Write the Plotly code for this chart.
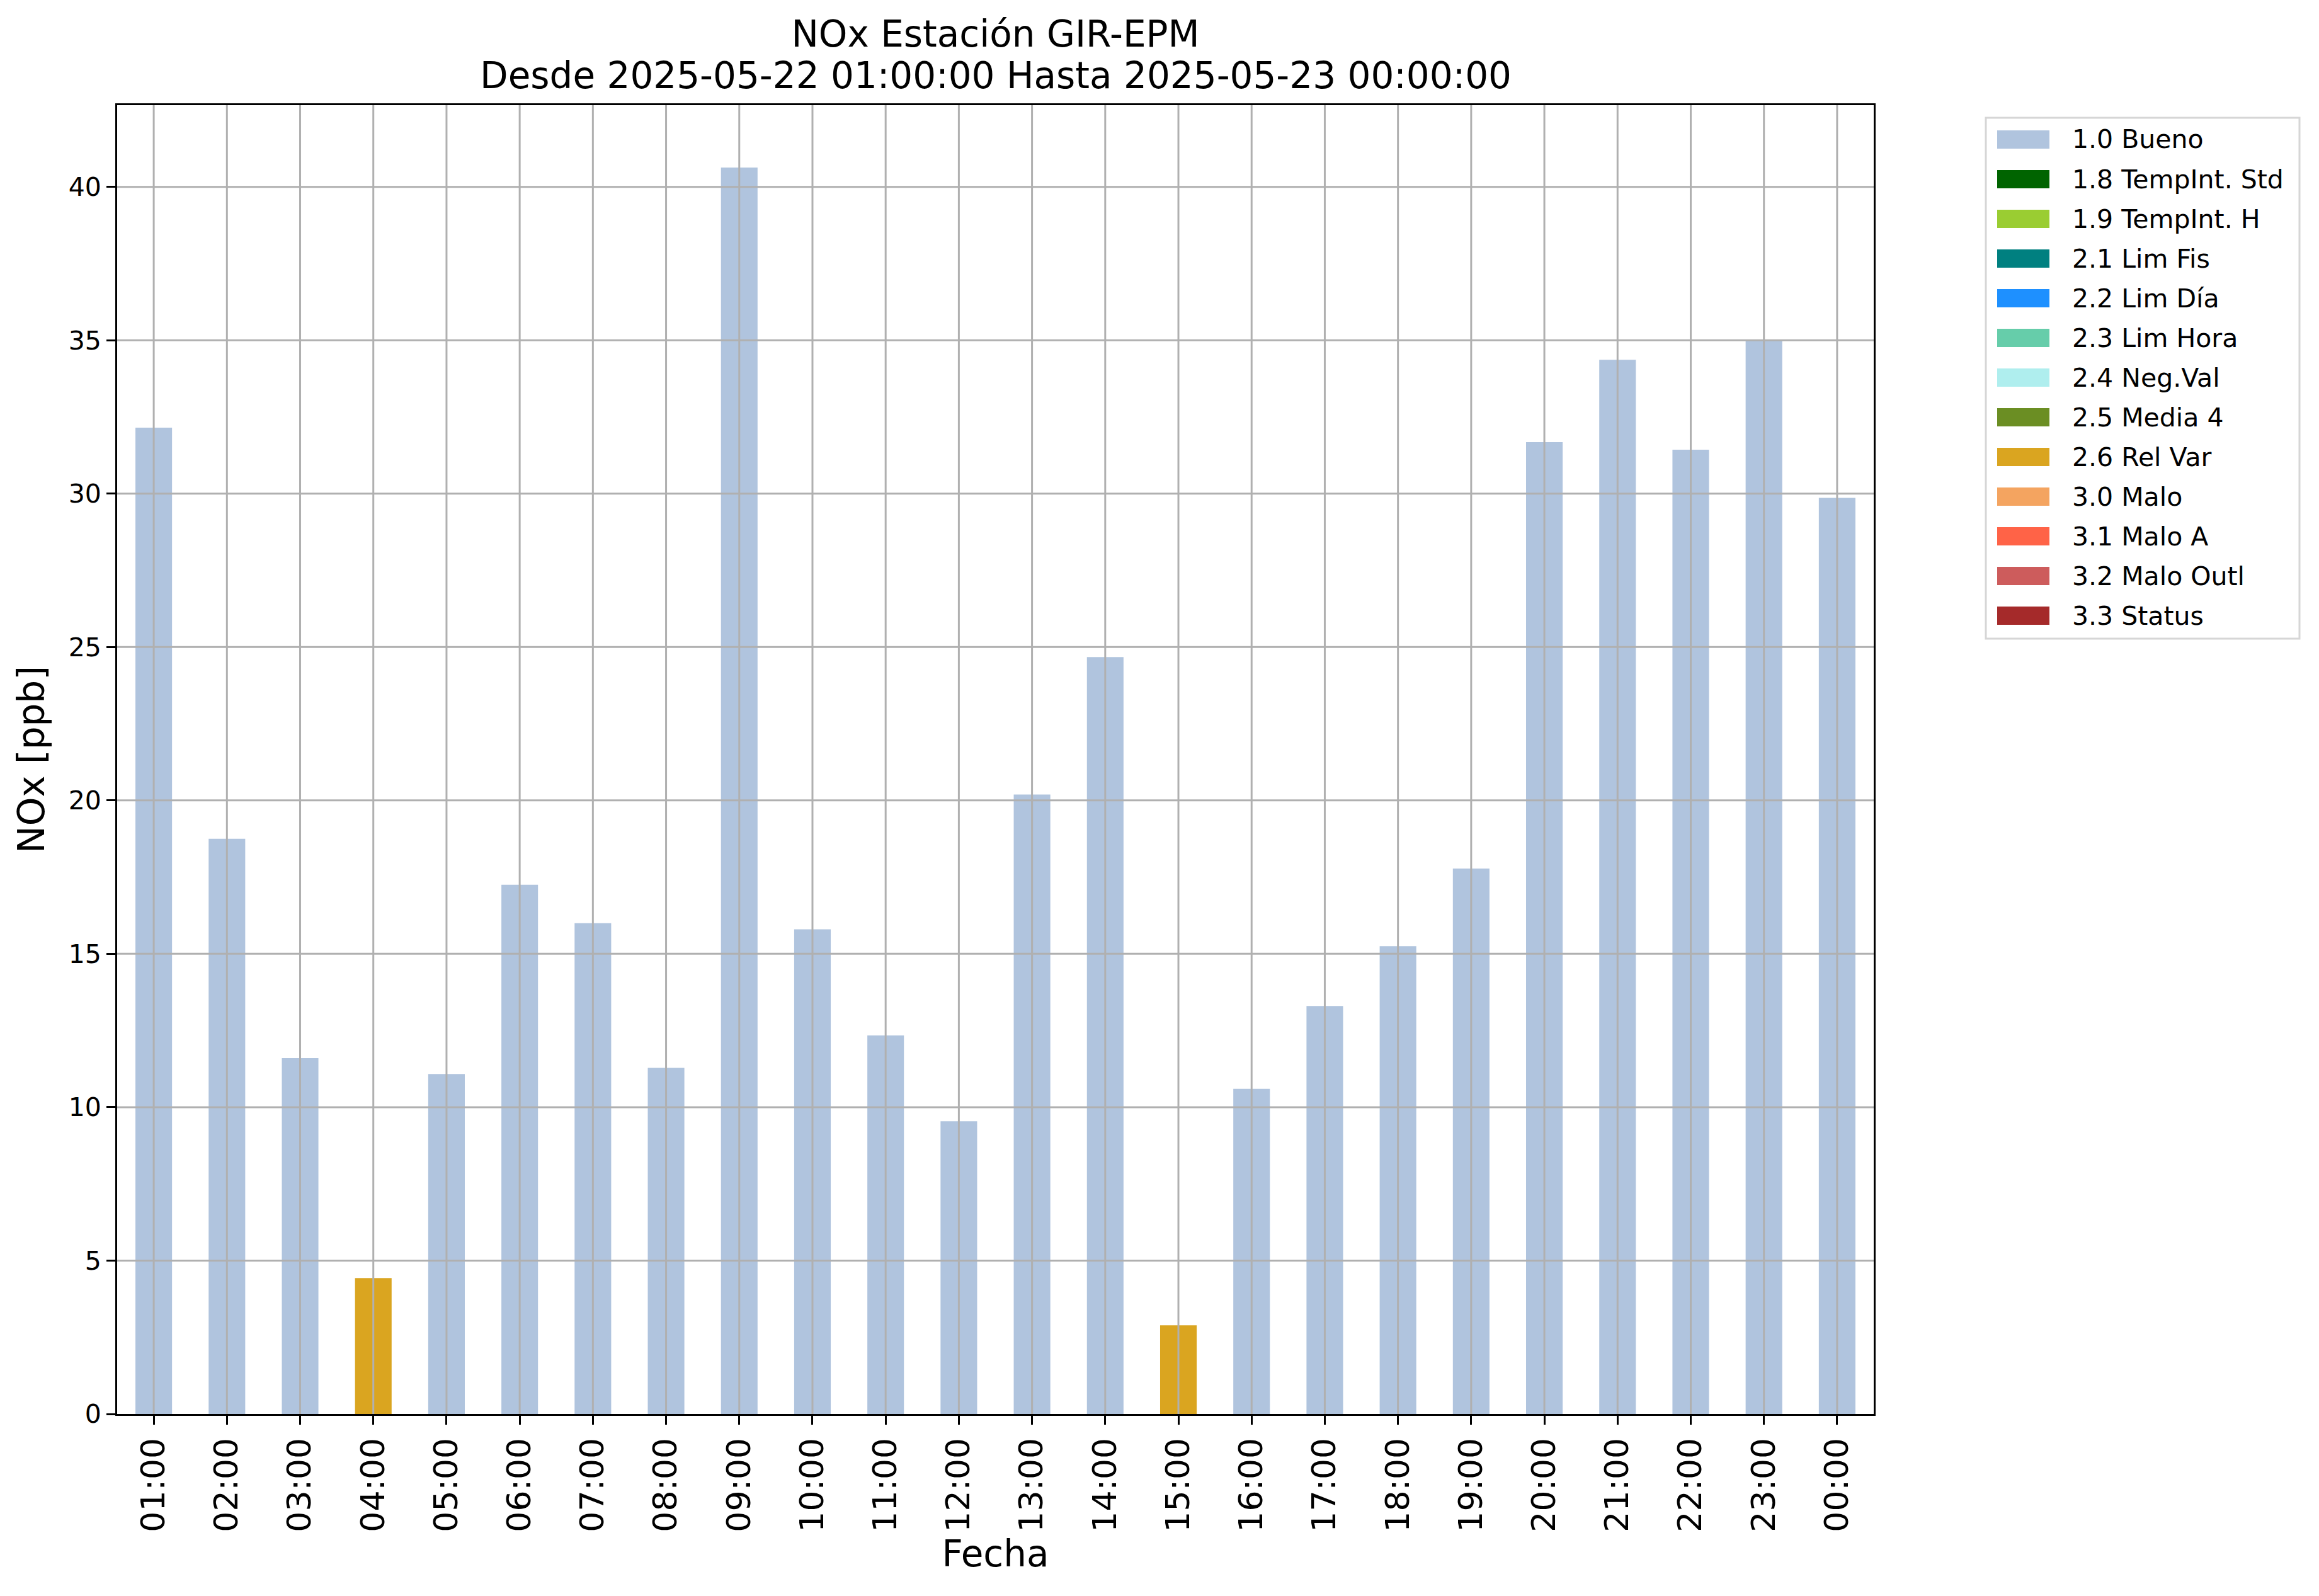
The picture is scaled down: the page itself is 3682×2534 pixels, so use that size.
import plotly.graph_objects as go

# ---------------- data ----------------
hours = ["01:00", "02:00", "03:00", "04:00", "05:00", "06:00", "07:00", "08:00",
         "09:00", "10:00", "11:00", "12:00", "13:00", "14:00", "15:00", "16:00",
         "17:00", "18:00", "19:00", "20:00", "21:00", "22:00", "23:00", "00:00"]
nox_values = [32.15, 18.75, 11.6, 4.43, 11.08, 17.25, 16.0, 11.28,
              40.63, 15.8, 12.34, 9.54, 20.19, 24.67, 2.89, 10.6,
              13.3, 15.25, 17.78, 31.68, 34.36, 31.43, 35.02, 29.86]
flags = ["1.0 Bueno", "1.0 Bueno", "1.0 Bueno", "2.6 Rel Var", "1.0 Bueno", "1.0 Bueno",
         "1.0 Bueno", "1.0 Bueno", "1.0 Bueno", "1.0 Bueno", "1.0 Bueno", "1.0 Bueno",
         "1.0 Bueno", "1.0 Bueno", "2.6 Rel Var", "1.0 Bueno", "1.0 Bueno", "1.0 Bueno",
         "1.0 Bueno", "1.0 Bueno", "1.0 Bueno", "1.0 Bueno", "1.0 Bueno", "1.0 Bueno"]
categories = ["1.0 Bueno", "1.8 TempInt. Std", "1.9 TempInt. H", "2.1 Lim Fis",
              "2.2 Lim Día", "2.3 Lim Hora", "2.4 Neg.Val", "2.5 Media 4",
              "2.6 Rel Var", "3.0 Malo", "3.1 Malo A", "3.2 Malo Outl", "3.3 Status"]
category_colors = ["#B0C4DE", "#006400", "#9ACD32", "#008080", "#1E90FF", "#66CDAA",
                   "#AFEEEE", "#6B8E23", "#DAA520", "#F4A460", "#FF6347", "#CD5C5C",
                   "#A52A2A"]
y_ticks = [0, 5, 10, 15, 20, 25, 30, 35, 40]

title_line1 = "NOx Estación GIR-EPM"
title_line2 = "Desde 2025-05-22 01:00:00 Hasta 2025-05-23 00:00:00"

# ---------------- geometry (pixels) ----------------
W, H = 3682, 2534
L, R, T, B = 186, 2975, 167, 2245
FONT = "DejaVu Sans"
GRID = "#b0b0b0"

def px_x(p):
    return (p - L) / (R - L)

def px_y(p):
    return (B - p) / (B - T)

y_max = max(nox_values) * 1.05

fig = go.Figure()
for cat, col in zip(categories, category_colors):
    ys = [v if f == cat else None for v, f in zip(nox_values, flags)]
    fig.add_trace(go.Bar(x=hours, y=ys, name=cat, width=0.5,
                         marker=dict(color=col, line=dict(width=0)),
                         showlegend=False))

shapes = []
# grid lines drawn above bars (matplotlib style)
for h in hours:
    shapes.append(dict(type="line", xref="x", yref="paper", x0=h, x1=h, y0=0, y1=1,
                       line=dict(color=GRID, width=3), layer="above"))
for t in y_ticks:
    if 0 < t < y_max:
        shapes.append(dict(type="line", xref="paper", yref="y", x0=0, x1=1, y0=t, y1=t,
                           line=dict(color=GRID, width=3), layer="above"))

# manual legend (matplotlib-like patches)
leg_left, leg_right, leg_top, leg_bottom = 3153, 3651, 187, 1014
shapes.append(dict(type="rect", xref="paper", yref="paper",
                   x0=px_x(leg_left), x1=px_x(leg_right),
                   y0=px_y(leg_bottom), y1=px_y(leg_top),
                   line=dict(color="#d6d6d6", width=3), fillcolor="white", layer="above"))
annotations = []
row0, pitch = 221.5, 63
for i, (cat, col) in enumerate(zip(categories, category_colors)):
    cy = row0 + pitch * i
    shapes.append(dict(type="rect", xref="paper", yref="paper",
                       x0=px_x(3171), x1=px_x(3254),
                       y0=px_y(cy + 14.5), y1=px_y(cy - 14.5),
                       line=dict(width=0), fillcolor=col, layer="above"))
    annotations.append(dict(xref="paper", yref="paper", x=px_x(3288), y=px_y(cy),
                            xanchor="left", yanchor="middle", text=cat, showarrow=False,
                            font=dict(family=FONT, size=41, color="black")))

# second title line
annotations.append(dict(xref="paper", yref="paper", x=0.5, y=px_y(120),
                        xanchor="center", yanchor="middle", text=title_line2,
                        showarrow=False, font=dict(family=FONT, size=58, color="black")))

fig.update_layout(
    width=W, height=H,
    margin=dict(l=L, r=W - R, t=T, b=H - B, autoexpand=False),
    paper_bgcolor="white", plot_bgcolor="white",
    barmode="overlay",
    showlegend=False,
    font=dict(family=FONT, color="black"),
    title=dict(text=title_line1, x=0.5, xref="paper", xanchor="center",
               y=1 - 54 / H, yref="container", yanchor="middle",
               font=dict(family=FONT, size=58, color="black")),
    shapes=shapes,
    annotations=annotations,
)
fig.update_xaxes(
    type="category", categoryorder="array", categoryarray=hours,
    range=[-0.5, len(hours) - 0.5],
    showgrid=False, zeroline=False,
    showline=True, linecolor="black", linewidth=3, mirror=True,
    ticks="outside", ticklen=14, tickwidth=3, tickcolor="black",
    tickangle=-90, tickfont=dict(family=FONT, size=52),
    title=dict(text="Fecha", font=dict(family=FONT, size=58), standoff=10),
    automargin=False,
)
fig.update_yaxes(
    range=[0, y_max], tickvals=y_ticks, ticktext=[str(t) for t in y_ticks],
    showgrid=False, zeroline=False,
    showline=True, linecolor="black", linewidth=3, mirror=True,
    ticks="outside", ticklen=14, tickwidth=3, tickcolor="black",
    tickfont=dict(family=FONT, size=41),
    title=dict(text="NOx [ppb]", font=dict(family=FONT, size=58), standoff=20),
    automargin=False,
)

fig.write_html("out.html", config={"displayModeBar": False},
               post_script="document.body.style.margin='0px';")
